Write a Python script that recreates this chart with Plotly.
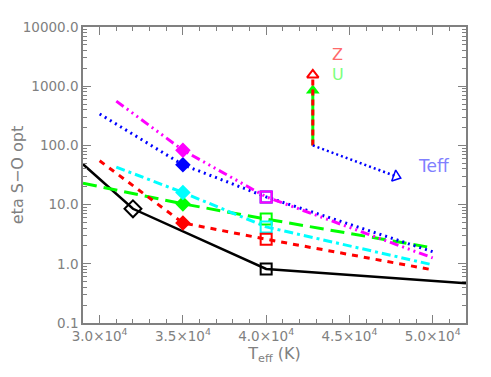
import numpy as np
import plotly.graph_objects as go

# Donnees
x_black = [29000, 32000, 40000, 52000]
y_black = [48, 8.5, 0.82, 0.47]
x_red = [30000, 35000, 40000, 50000]
y_red = [55, 4.9, 2.6, 0.79]
x_green = [29000, 35000, 40000, 50000]
y_green = [23, 10.3, 5.7, 1.86]
x_cyan = [31000, 35000, 40000, 50000]
y_cyan = [43, 16, 4.2, 0.96]
x_blue = [30000, 35000, 40000, 50000]
y_blue = [340, 47, 13.5, 1.6]
x_magenta = [31000, 35000, 40000, 50000]
y_magenta = [560, 83, 13.5, 1.26]

# Fleches (origine, extremites)
arrow_x0, arrow_y0 = 42800, 100
arrow_z_y = 1550
arrow_u_y = 850
arrow_teff_x, arrow_teff_y = 47800, 30

xticks = [30000, 35000, 40000, 45000, 50000]
xtick_labels = ["3.0×10<sup>4</sup>", "3.5×10<sup>4</sup>", "4.0×10<sup>4</sup>",
                "4.5×10<sup>4</sup>", "5.0×10<sup>4</sup>"]
yticks = [0.1, 1, 10, 100, 1000, 10000]
ytick_labels = ["0.1", "1.0", "10.0", "100.0", "1000.0", "10000.0"]

GRIS = "#808080"

fig = go.Figure()

series = [
    (x_black, y_black, "black", "solid", 2.5),
    (x_green, y_green, "#00ff00", "14px,7px", 3),
    (x_cyan, y_cyan, "cyan", "9px,4px,3px,4px", 3),
    (x_red, y_red, "red", "6px,6px", 3),
    (x_blue, y_blue, "blue", "2px,4px", 3),
    (x_magenta, y_magenta, "magenta", "9px,4px,2px,4px,2px,4px,2px,4px", 3),
]
for xs, ys, col, dash, lw in series:
    fig.add_trace(go.Scatter(x=xs, y=ys, mode="lines", showlegend=False,
                             line=dict(color=col, dash=dash, width=lw)))

# Diamants pleins a 35000, carres ouverts a 40000
for xs, ys, col in [(x_green, y_green, "#00ff00"), (x_cyan, y_cyan, "cyan"),
                    (x_red, y_red, "red"), (x_blue, y_blue, "blue"),
                    (x_magenta, y_magenta, "magenta")]:
    i = xs.index(35000)
    j = xs.index(40000)
    fig.add_trace(go.Scatter(x=[xs[i]], y=[ys[i]], mode="markers", showlegend=False,
                             marker=dict(symbol="diamond", size=12, color=col)))
    fig.add_trace(go.Scatter(x=[xs[j]], y=[ys[j]], mode="markers", showlegend=False,
                             marker=dict(symbol="square-open", size=11, color=col,
                                         line=dict(width=2, color=col))))

fig.add_trace(go.Scatter(x=[x_black[1]], y=[y_black[1]], mode="markers", showlegend=False,
                         marker=dict(symbol="diamond-open", size=13, color="black",
                                     line=dict(width=2, color="black"))))
fig.add_trace(go.Scatter(x=[x_black[2]], y=[y_black[2]], mode="markers", showlegend=False,
                         marker=dict(symbol="square-open", size=11, color="black",
                                     line=dict(width=2, color="black"))))

# Fleches
fig.add_trace(go.Scatter(x=[arrow_x0, arrow_x0], y=[arrow_y0, arrow_u_y], mode="lines",
                         showlegend=False, line=dict(color="#00ff00", width=3)))
fig.add_trace(go.Scatter(x=[arrow_x0], y=[arrow_u_y], mode="markers", showlegend=False,
                         marker=dict(symbol="triangle-up", size=12, color="#00ff00")))
fig.add_trace(go.Scatter(x=[arrow_x0, arrow_x0], y=[arrow_y0, arrow_z_y], mode="lines",
                         showlegend=False, line=dict(color="red", width=3, dash="6px,4px")))
fig.add_trace(go.Scatter(x=[arrow_x0], y=[arrow_z_y], mode="markers", showlegend=False,
                         marker=dict(symbol="triangle-up", size=10, color="white",
                                     line=dict(width=2, color="red"))))
fig.add_trace(go.Scatter(x=[arrow_x0, arrow_teff_x], y=[arrow_y0, arrow_teff_y], mode="lines",
                         showlegend=False, line=dict(color="blue", width=2.5, dash="2px,3px")))
fig.add_trace(go.Scatter(x=[arrow_teff_x], y=[arrow_teff_y], mode="markers", showlegend=False,
                         marker=dict(symbol="triangle-right-open", size=10, color="blue", angle=20,
                                     line=dict(width=1.5, color="blue"))))

fig.add_annotation(x=44300, y=np.log10(3400), text="Z", showarrow=False,
                   font=dict(color="#ff6a6a", size=16))
fig.add_annotation(x=44300, y=np.log10(1550), text="U", showarrow=False,
                   font=dict(color="#7dff7d", size=16))
fig.add_annotation(x=50100, y=np.log10(45), text="Teff", showarrow=False,
                   font=dict(color="#8080ff", size=17))

minor_y = [m * 10 ** d for d in range(-1, 4) for m in range(2, 10)]

fig.update_xaxes(range=[29000, 52000], tickvals=xticks, ticktext=xtick_labels,
                 ticks="inside", ticklen=8, tickcolor=GRIS, linecolor=GRIS, linewidth=1.5,
                 mirror="ticks", showgrid=False, zeroline=False, automargin=False,
                 tickfont=dict(size=13.5),
                 minor=dict(dtick=1000, ticks="inside", ticklen=4, tickcolor=GRIS),
                 title=dict(text="T<sub>eff</sub> (K)", standoff=4))
fig.update_yaxes(type="log", range=[-1, 4], tickvals=yticks, ticktext=ytick_labels,
                 ticks="inside", ticklen=8, tickcolor=GRIS, linecolor=GRIS, linewidth=1.5,
                 mirror="ticks", showgrid=False, zeroline=False, automargin=False,
                 tickfont=dict(size=13.5),
                 minor=dict(tickvals=minor_y, ticks="inside", ticklen=4, tickcolor=GRIS),
                 title=dict(text="eta S−O opt", standoff=8))

# la page ajoute une marge de 8 px autour de la figure
fig.update_layout(width=491, height=377, template="simple_white",
                  margin=dict(l=75, r=33, t=19, b=62),
                  plot_bgcolor="white", paper_bgcolor="white",
                  font=dict(family="DejaVu Sans", size=13, color=GRIS))

fig.write_html("out.html")
